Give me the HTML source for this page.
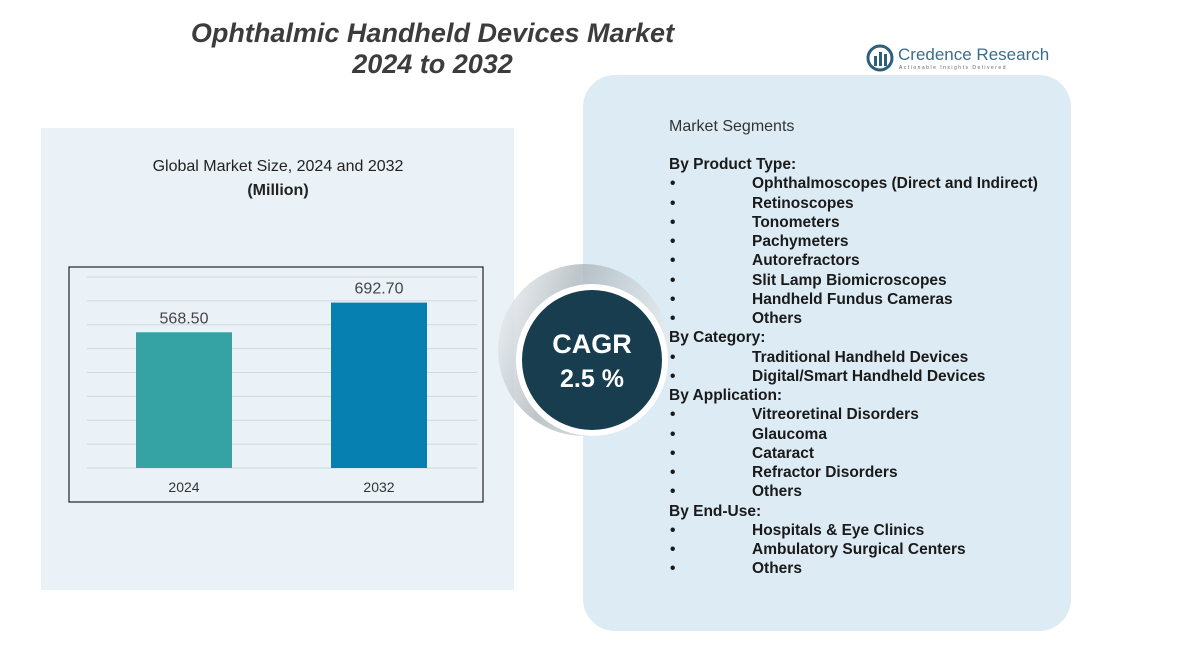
<!DOCTYPE html>
<html><head><meta charset="utf-8">
<style>
body{margin:0;width:1182px;height:646px;background:#fff;position:relative;overflow:hidden;font-family:"Liberation Sans",sans-serif;color:#222}
.abs{position:absolute}
#title{left:150px;top:18px;width:565px;text-align:center;font-size:27px;font-weight:bold;font-style:italic;color:#3c3c3c;line-height:31px}
#left-panel{left:41px;top:128px;width:473px;height:462px;background:#eaf2f8}
#card{left:583px;top:75px;width:488px;height:556px;background:#dcebf4;border-radius:32px}
.seg{position:absolute;font-size:15.5px;font-weight:bold;color:#1a1a1a;white-space:nowrap}
</style></head><body>
<div id="left-panel" class="abs"></div>
<div id="card" class="abs"></div>
<div id="title" class="abs">Ophthalmic Handheld Devices Market<br>2024 to 2032</div>
<div class="abs" style="left:866px;top:44px;width:190px;height:30px;white-space:nowrap">
 <svg width="28" height="28" style="position:absolute;left:0;top:0"><circle cx="14" cy="14" r="12" fill="none" stroke="#2e5f7a" stroke-width="3"/><rect x="8" y="12" width="3" height="10" fill="#2e5f7a"/><rect x="13" y="8" width="3" height="14" fill="#2e5f7a"/><rect x="18" y="10" width="3" height="12" fill="#2e5f7a"/></svg>
 <div style="position:absolute;left:32px;top:1px;font-size:17px;color:#3a6f8c;white-space:nowrap">Credence Research</div>
 <div style="position:absolute;left:33px;top:21px;font-size:5px;letter-spacing:1.5px;color:#666;white-space:nowrap">Actionable Insights Delivered</div>
</div>
<div class="abs" style="left:100px;top:155px;width:356px;text-align:center;font-size:16px;color:#222;line-height:24px">Global Market Size, 2024 and 2032<br><b>(Million)</b></div>
<svg class="abs" style="left:0;top:0" width="1182" height="646">
 <rect x="69" y="267" width="414" height="235" fill="none" stroke="#222" stroke-width="1.2"/>
 <g id="grid"></g><g id="bars"></g>
</svg>
<svg class="abs" style="left:480px;top:250px" width="200" height="200">
 <defs><linearGradient id="sh" x1="0" x2="1" y1="0" y2="0.3"><stop offset="0" stop-color="#f2f5f7"/><stop offset="0.45" stop-color="#a8b2b8"/><stop offset="1" stop-color="#e4eaed"/></linearGradient></defs>
 <circle cx="104" cy="100" r="86" fill="url(#sh)" opacity="0.75"/>
 <circle cx="112" cy="110" r="76" fill="#fff"/>
 <circle cx="112" cy="110" r="70" fill="#173d4e"/>
 <text x="112" y="103" text-anchor="middle" font-family="Liberation Sans" font-weight="bold" font-size="27" fill="#fff">CAGR</text>
 <text x="112" y="137" text-anchor="middle" font-family="Liberation Sans" font-weight="bold" font-size="25" fill="#fff">2.5 %</text>
</svg>
<div class="seg" style="left:669px;top:118px;font-weight:normal;font-size:16px;color:#333">Market Segments</div>
<div id="segs"></div>
<script>
const categories=["2024","2032"];
const values=[568.50,692.70];
const labels=["568.50","692.70"];
const ticks=[0,100,200,300,400,500,600,700,800];
const colors=["#35a3a4","#0680b1"];
const ns="http://www.w3.org/2000/svg";
const y0=468,yScale=191/800;
const y=v=>y0-v*yScale;
const xc=i=>184+i*195;
const grid=document.getElementById('grid');
ticks.forEach(t=>{const l=document.createElementNS(ns,'line');
l.setAttribute('x1',87);l.setAttribute('x2',477);l.setAttribute('y1',y(t));l.setAttribute('y2',y(t));
l.setAttribute('stroke','#d2d8dc');l.setAttribute('stroke-width','1');


grid.appendChild(l);});
const bars=document.getElementById('bars');
values.forEach((v,i)=>{const r=document.createElementNS(ns,'rect');
r.setAttribute('x',xc(i)-48);r.setAttribute('width',96);r.setAttribute('y',y(v));r.setAttribute('height',y0-y(v));r.setAttribute('fill',colors[i]);


bars.appendChild(r);
const t=document.createElementNS(ns,'text');t.setAttribute('x',xc(i));t.setAttribute('y',y(v)-9);t.setAttribute('text-anchor','middle');t.setAttribute('font-size','16');t.setAttribute('fill','#444');t.setAttribute('font-family','Liberation Sans');t.textContent=labels[i];


bars.appendChild(t);
const c=document.createElementNS(ns,'text');c.setAttribute('x',xc(i));c.setAttribute('y',492);c.setAttribute('text-anchor','middle');c.setAttribute('font-size','14');c.setAttribute('fill','#333');c.setAttribute('font-family','Liberation Sans');c.textContent=categories[i];


bars.appendChild(c);});
const lines=[["h","By Product Type:"],["b","Ophthalmoscopes (Direct and Indirect)"],["b","Retinoscopes"],["b","Tonometers"],["b","Pachymeters"],["b","Autorefractors"],["b","Slit Lamp Biomicroscopes"],["b","Handheld Fundus Cameras"],["b","Others"],["h","By Category:"],["b","Traditional Handheld Devices"],["b","Digital/Smart Handheld Devices"],["h","By Application:"],["b","Vitreoretinal Disorders"],["b","Glaucoma"],["b","Cataract"],["b","Refractor Disorders"],["b","Others"],["h","By End-Use:"],["b","Hospitals & Eye Clinics"],["b","Ambulatory Surgical Centers"],["b","Others"]];
const segs=document.getElementById('segs');
lines.forEach((l,i)=>{const top=156+i*19.25;
if(l[0]==="h"){const d=document.createElement('div');d.className='seg';d.style.left='669px';d.style.top=top+'px';d.textContent=l[1];


segs.appendChild(d);}
else{const b=document.createElement('div');b.className='seg';b.style.left='670px';b.style.top=top+'px';b.textContent='•';


segs.appendChild(b);
const d=document.createElement('div');d.className='seg';d.style.left='752px';d.style.top=top+'px';d.textContent=l[1];


segs.appendChild(d);}});
</script>
</body></html>
